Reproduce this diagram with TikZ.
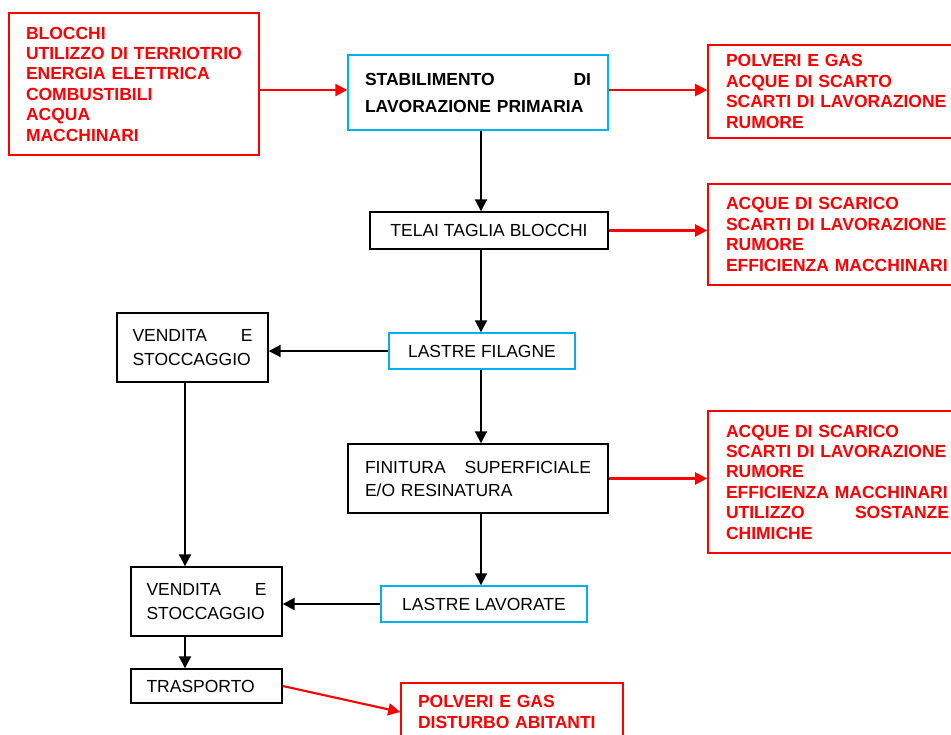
\documentclass[tikz,border=0pt]{standalone}
\usepackage{fontspec}
\setmainfont{Liberation Sans}
\usetikzlibrary{arrows.meta}
\usetikzlibrary{positioning, calc}

\definecolor{boxcyan}{RGB}{0,176,240}

\tikzset{
  blk/.style={draw=black, line width=1.4pt, inner ysep=0pt, inner xsep=15.5pt, align=left,
    font=\fontsize{17.5}{24}\selectfont},
  cyanbox/.style={draw=boxcyan, line width=1.4pt, inner sep=0pt,
    font=\fontsize{17.5}{20.4}\selectfont},
  redbox/.style={draw=red, line width=1.6pt, text=red, inner ysep=0pt, inner xsep=17pt, align=left,
    font=\bfseries\fontsize{17.5}{20.4}\selectfont},
  flow/.style={line width=1.9pt, -{Triangle[length=12pt,width=12pt]}},
  redflow/.style={flow, line width=2.1pt, draw=red, fill=red},
}

\begin{document}
\begin{tikzpicture}[x=1pt,y=-1pt]
  \useasboundingbox (0,0) rectangle (951,735);
  \clip (0,0) rectangle (951,735);

  % columns / rows for the connectors
  \coordinate (col)  at (481,0);
  \coordinate (lcol) at (185,0);
  \coordinate (row)  at (0,90);

  % Main chain
  \node[redbox, text width=216pt, minimum height=142pt] (inputs) at (134,84)
    {BLOCCHI\\UTILIZZO DI TERRIOTRIO\\ENERGIA ELETTRICA\\COMBUSTIBILI\\ACQUA\\MACCHINARI};
  \node[draw=boxcyan, line width=1.4pt, inner ysep=0pt, inner xsep=17pt, align=left, text width=226pt,
    minimum height=75pt, font=\bfseries\fontsize{17.5}{27}\selectfont] (stab) at (478,92.5)
    {STABILIMENTO\hfill DI\\LAVORAZIONE PRIMARIA};
  \node[blk, minimum width=238pt, minimum height=37pt, inner sep=0pt,
    font=\fontsize{17.5}{20.4}\selectfont] (telai) at (489,230.5) {TELAI TAGLIA BLOCCHI};
  \node[cyanbox, minimum width=186pt, minimum height=36pt] (fil) at (482,351) {LASTRE FILAGNE};
  \node[blk, text width=226pt, inner xsep=17pt, minimum height=69pt,
    font=\fontsize{17.5}{23}\selectfont] (fin) at (478,478.5)
    {FINITURA\hfill SUPERFICIALE\\E/O RESINATURA};
  \node[cyanbox, minimum width=206pt, minimum height=36pt] (lav) at (484,604) {LASTRE LAVORATE};

  % Left column: sale, storage, transport
  \node[blk, text width=120pt, minimum height=69pt] (vend1) at (192.5,347.5) {VENDITA\hfill E\\STOCCAGGIO};
  \node[blk, text width=120pt, minimum height=69pt] (vend2) at (206.5,601.5) {VENDITA\hfill E\\STOCCAGGIO};
  \node[blk, text width=120pt, minimum height=34pt] (tras) at (206.5,686) {TRASPORTO};

  % Impacts (red)
  \node[redbox, text width=223pt, inner xsep=18pt, minimum height=93pt] (out1) at (837.5,91.5)
    {POLVERI E GAS\\ACQUE DI SCARTO\\SCARTI DI LAVORAZIONE\\RUMORE};
  \node[redbox, text width=223pt, inner xsep=18pt, minimum height=101pt] (out2) at (837.5,234.5)
    {ACQUE DI SCARICO\\SCARTI DI LAVORAZIONE\\RUMORE\\EFFICIENZA MACCHINARI};
  \node[redbox, text width=223pt, inner xsep=18pt, minimum height=142pt] (out3) at (837.5,482)
    {ACQUE DI SCARICO\\SCARTI DI LAVORAZIONE\\RUMORE\\EFFICIENZA MACCHINARI\\UTILIZZO\hfill SOSTANZE\\CHIMICHE};
  \node[redbox, text width=188pt, minimum height=58pt] (out4) at (512,712)
    {POLVERI E GAS\\DISTURBO ABITANTI};

  % Flow
  \draw[flow] (stab.south -| col) -- (telai.north -| col);
  \draw[flow] (telai.south -| col) -- (fil.north -| col);
  \draw[flow] (fil.south -| col) -- (fin.north -| col);
  \draw[flow] (fin.south -| col) -- (lav.north -| col);
  \draw[flow] (fil.west) -- (fil.west -| vend1.east);
  \draw[flow] (lav.west) -- (lav.west -| vend2.east);
  \draw[flow] (vend1.south -| lcol) -- (vend2.north -| lcol);
  \draw[flow] (vend2.south -| lcol) -- (tras.north -| lcol);

  % Inputs and impacts
  \draw[redflow] (inputs.east |- row) -- (stab.west |- row);
  \draw[redflow] (stab.east |- row) -- (out1.west |- row);
  \draw[redflow] (telai.east) -- (telai.east -| out2.west);
  \draw[redflow] (fin.east) -- (fin.east -| out3.west);
  \draw[redflow] (tras.east) -- (out4.west);
\end{tikzpicture}
\end{document}
